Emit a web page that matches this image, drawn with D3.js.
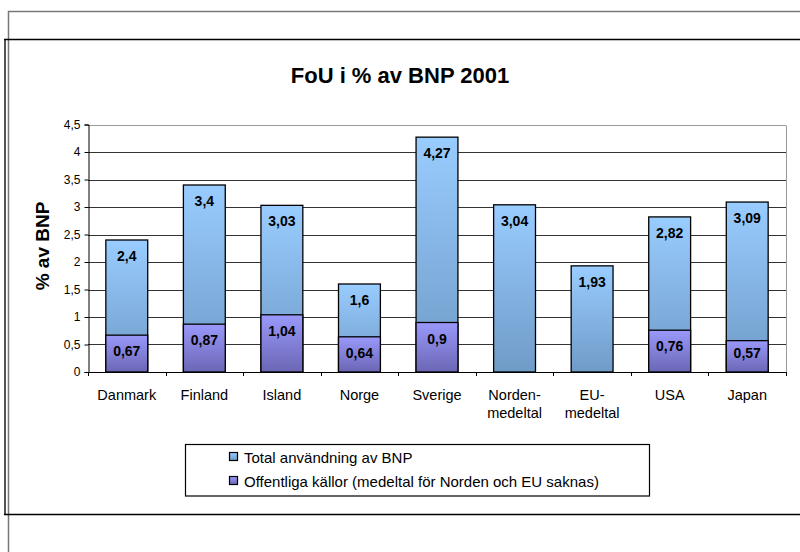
<!DOCTYPE html>
<meta charset="utf-8">
<script src="https://d3js.org/d3.v7.min.js"></script>
<style>
  body { margin: 0; background: #fff; }
  svg text { font-family: "Liberation Sans", Arial, sans-serif; }
</style>
<div id="chart"></div>
<script>
// data
var categories = ["Danmark", "Finland", "Island", "Norge", "Sverige", "Norden-medeltal", "EU-medeltal", "USA", "Japan"];
var totalValues = [2.4, 3.4, 3.03, 1.6, 4.27, 3.04, 1.93, 2.82, 3.09];
var publicValues = [0.67, 0.87, 1.04, 0.64, 0.9, null, null, 0.76, 0.57];
var yTicks = [0, 0.5, 1, 1.5, 2, 2.5, 3, 3.5, 4, 4.5];
var seriesNames = ["Total användning av BNP", "Offentliga källor (medeltal för Norden och EU saknas)"];

var width = 800, height = 552;
var svg = d3.select("#chart").append("svg")
    .attr("width", width)
    .attr("height", height);

// swedish number format, decimal comma
var sv = d3.formatLocale({decimal: ",", thousands: " ", grouping: [3], currency: ["", " kr"]});
var fmt = function(v) { return sv.format("~g")(v); };

// gradients
var defs = svg.append("defs");
function grad(id, c1, c2) {
  var g = defs.append("linearGradient").attr("id", id)
    .attr("x1", 0).attr("y1", 0).attr("x2", 0).attr("y2", 1);
  g.append("stop").attr("offset", "0%").attr("stop-color", c1);
  g.append("stop").attr("offset", "100%").attr("stop-color", c2);
}
grad("gTotal", "#99ccff", "#6f9bc7");
grad("gPublic", "#9a99fb", "#6b66b4");

// frames
svg.append("path").attr("d", "M8.5,552 V11.5 H800")
  .attr("fill", "none").attr("stroke", "#777").attr("stroke-width", 1.5);
svg.append("path").attr("d", "M5,40 V514.5")
  .attr("fill", "none").attr("stroke", "#555").attr("stroke-width", 2);
svg.append("path").attr("d", "M4,39.5 H800 M4,514.5 H800")
  .attr("fill", "none").attr("stroke", "#000").attr("stroke-width", 1.3);

// title
svg.append("text")
  .attr("x", 400).attr("y", 83)
  .attr("text-anchor", "middle")
  .style("font-size", "22px").style("font-weight", "bold")
  .text("FoU i % av BNP 2001");

// plot area
var plotL = 88, plotR = 786, plotT = 124.5, plotB = 372;

var x = d3.scaleBand()
  .domain(categories)
  .range([plotL, plotR])
  .paddingInner(0.46)
  .paddingOuter(0.23);

var y = d3.scaleLinear()
  .domain([0, 4.5])
  .range([plotB, plotT]);

// gridlines
svg.append("g").selectAll("line")
  .data(yTicks.filter(function(d) { return d > 0; }))
  .enter().append("line")
    .attr("x1", plotL).attr("x2", plotR)
    .attr("y1", function(d) { return Math.round(y(d)) + 0.5; })
    .attr("y2", function(d) { return Math.round(y(d)) + 0.5; })
    .attr("stroke", function(d) { return d === 4.5 ? "#999" : "#333"; })
    .attr("stroke-width", 1);
svg.append("line")
  .attr("x1", plotR + 0.5).attr("x2", plotR + 0.5)
  .attr("y1", Math.round(plotT) + 0.5).attr("y2", plotB)
  .attr("stroke", "#999");

// y axis
var yAxis = svg.append("g")
  .attr("transform", "translate(" + (plotL + 0.5) + ",0)")
  .call(d3.axisLeft(y).tickValues(yTicks).tickSize(4).tickPadding(4).tickFormat(fmt));
yAxis.select(".domain").attr("stroke", "#000");
yAxis.selectAll("line").attr("stroke", "#000");
yAxis.selectAll("text").style("font-size", "12px").attr("fill", "#000");

svg.append("text")
  .attr("transform", "translate(49,246) rotate(-90)")
  .attr("text-anchor", "middle")
  .style("font-size", "19px").style("font-weight", "bold")
  .text("% av BNP");

// bars: total behind, public in front
var bw = x.bandwidth();
svg.append("g").selectAll("rect")
  .data(categories)
  .enter().append("rect")
    .attr("x", function(d) { return x(d); })
    .attr("y", function(d, i) { return y(totalValues[i]); })
    .attr("width", bw)
    .attr("height", function(d, i) { return plotB - y(totalValues[i]); })
    .attr("fill", "url(#gTotal)")
    .attr("stroke", "#000").attr("stroke-width", 1.3);

var pubIdx = categories.map(function(d, i) { return i; })
  .filter(function(i) { return publicValues[i] != null; });

svg.append("g").selectAll("rect")
  .data(pubIdx)
  .enter().append("rect")
    .attr("x", function(i) { return x(categories[i]); })
    .attr("y", function(i) { return y(publicValues[i]); })
    .attr("width", bw)
    .attr("height", function(i) { return plotB - y(publicValues[i]); })
    .attr("fill", "url(#gPublic)")
    .attr("stroke", "#000").attr("stroke-width", 1.3);

// value labels
svg.append("g").selectAll("text")
  .data(categories)
  .enter().append("text")
    .attr("x", function(d) { return x(d) + bw / 2; })
    .attr("y", function(d, i) { return y(totalValues[i]) + 21; })
    .attr("text-anchor", "middle")
    .style("font-size", "14px").style("font-weight", "bold")
    .text(function(d, i) { return fmt(totalValues[i]); });

svg.append("g").selectAll("text")
  .data(pubIdx)
  .enter().append("text")
    .attr("x", function(i) { return x(categories[i]) + bw / 2; })
    .attr("y", function(i) { return Math.min(y(publicValues[i]) + 21, 358); })
    .attr("text-anchor", "middle")
    .style("font-size", "14px").style("font-weight", "bold")
    .text(function(i) { return fmt(publicValues[i]); });

// x axis
svg.append("line")
  .attr("x1", plotL).attr("x2", plotR + 1)
  .attr("y1", plotB + 0.5).attr("y2", plotB + 0.5)
  .attr("stroke", "#000");
var step = x.step();
svg.append("g").selectAll("line")
  .data(d3.range(categories.length + 1))
  .enter().append("line")
    .attr("x1", function(i) { return Math.round(plotL + i * step) + 0.5; })
    .attr("x2", function(i) { return Math.round(plotL + i * step) + 0.5; })
    .attr("y1", plotB).attr("y2", plotB + 4)
    .attr("stroke", "#000");

var catLabels = svg.append("g").selectAll("text")
  .data(categories)
  .enter().append("text")
    .attr("x", function(d) { return x(d) + bw / 2; })
    .attr("y", 400)
    .attr("text-anchor", "middle")
    .style("font-size", "14.5px");
catLabels.each(function(d) {
  var cut = d.indexOf("-");
  var parts = cut > 0 ? [d.slice(0, cut + 1), d.slice(cut + 1)] : [d];
  var t = d3.select(this);
  parts.forEach(function(p, k) {
    t.append("tspan")
      .attr("x", t.attr("x"))
      .attr("dy", k === 0 ? 0 : 18)
      .text(p);
  });
});

// legend
var legend = svg.append("g");
legend.append("rect")
  .attr("x", 185.5).attr("y", 444.5)
  .attr("width", 464).attr("height", 51.5)
  .attr("fill", "#fff").attr("stroke", "#000").attr("stroke-width", 1.2);
var fills = ["url(#gTotal)", "url(#gPublic)"];
seriesNames.forEach(function(name, k) {
  var cy = 457 + k * 24;
  legend.append("rect")
    .attr("x", 229.5).attr("y", cy - 4.5)
    .attr("width", 8).attr("height", 8)
    .attr("fill", fills[k]).attr("stroke", "#000").attr("stroke-width", 1.2);
  legend.append("text")
    .attr("x", 244).attr("y", cy + 5.5)
    .style("font-size", "15px")
    .text(name);
});
</script>
